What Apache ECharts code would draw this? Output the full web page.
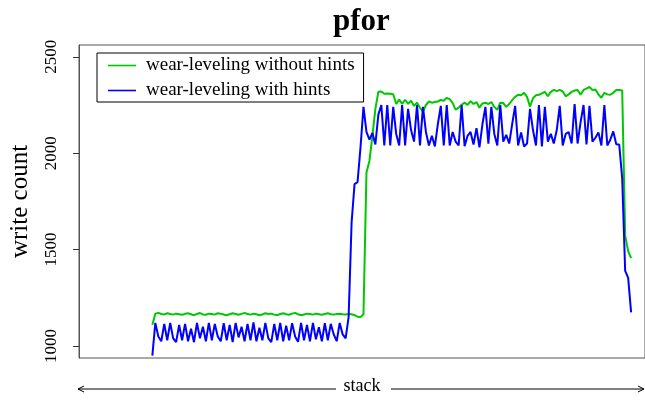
<!DOCTYPE html>
<html>
<head>
<meta charset="utf-8">
<title>pfor</title>
<script src="https://cdn.jsdelivr.net/npm/echarts@6/dist/echarts.min.js"></script>
<style>
  html, body { margin: 0; padding: 0; background: #fff; }
  #chart { width: 645px; height: 400px; }
</style>
</head>
<body>
<div id="chart"></div>
<script>
// write counts per stack position
var withoutHints = [
  1110, 1168, 1172, 1166, 1164, 1170, 1166, 1163, 1168, 1165,
  1162, 1167, 1170, 1165, 1160, 1166, 1171, 1164, 1162, 1168,
  1166, 1163, 1170, 1168, 1164, 1160, 1165, 1170, 1166, 1162,
  1167, 1172, 1166, 1163, 1168, 1165, 1160, 1164, 1170, 1166,
  1168, 1163, 1160, 1166, 1170, 1165, 1162, 1168, 1172, 1165,
  1160, 1164, 1168, 1166, 1163, 1168, 1165, 1162, 1166, 1170,
  1165, 1163, 1166, 1168, 1165, 1164, 1166, 1165, 1160, 1152,
  1150, 1165,
  1900, 1960, 2090, 2230, 2318, 2320, 2308, 2310,
  2308, 2306, 2255, 2278, 2256, 2277, 2256, 2272, 2245, 2262,
  2235, 2215, 2250, 2268, 2262, 2265, 2268, 2276, 2272, 2287,
  2280, 2260, 2225, 2236, 2251, 2262, 2250, 2270, 2255, 2265,
  2236, 2258, 2262, 2255, 2265, 2240, 2225, 2262, 2260, 2240,
  2255, 2275, 2292, 2303, 2300, 2313, 2292, 2241, 2285, 2300,
  2303, 2310, 2318, 2295, 2318, 2328, 2322, 2328, 2320, 2295,
  2305, 2318, 2325, 2328, 2303, 2328, 2335, 2344, 2328, 2330,
  2305, 2287, 2313, 2305, 2303, 2313, 2328, 2328, 2325, 1574,
  1492, 1456
];

var withHints = [
  950, 1120, 1050, 1025, 1115, 1030, 1120, 1040, 1020, 1110,
  1030, 1115, 1025, 1090, 1020, 1120, 1040, 1100, 1025, 1120,
  1030, 1115, 1050, 1025, 1118, 1030, 1110, 1020, 1120, 1045,
  1100, 1025, 1115, 1030, 1122, 1025, 1095, 1030, 1120, 1040,
  1020, 1115, 1030, 1120, 1025, 1105, 1030, 1118, 1050, 1022,
  1120, 1030, 1110, 1025, 1120, 1035, 1098, 1025, 1118, 1030,
  1115, 1060, 1025, 1120, 1060, 1040, 1150, 1640, 1840, 1850,
  2030, 2240,
  2110, 2070, 2105, 2045, 2200, 2250, 2040, 2250,
  2040, 2240, 2100, 2040, 2250, 2040, 2230, 2120, 2060, 2250,
  2040, 2240, 2110, 2040, 2090, 2035, 2150, 2245, 2040, 2250,
  2040, 2110, 2060, 2040, 2250, 2036, 2090, 2110, 2045, 2130,
  2030, 2150, 2240, 2050, 2240, 2100, 2040, 2250, 2060, 2095,
  2050, 2150, 2245, 2040, 2108, 2035, 2050, 2230, 2120, 2040,
  2250, 2035, 2240, 2060, 2100, 2050, 2120, 2245, 2040, 2100,
  2110, 2050, 2255, 2050, 2160, 2250, 2045, 2245, 2060, 2080,
  2108, 2040, 2250, 2040, 2070, 2113, 2046, 2045, 1870, 1390,
  1355, 1175
];

var seriesNames = ['wear-leveling without hints', 'wear-leveling with hints'];
var yTicks = [1000, 1500, 2000, 2500];

var serif = '"Liberation Serif", "DejaVu Serif", serif';

function toPairs(values) {
    return values.map(function(v, i) {
        return [i, v];
    });
}

var chart = echarts.init(document.getElementById('chart'));

var option = {
    animation: false,
    backgroundColor: '#fff',
    title: {
        text: 'pfor',
        left: 333,
        top: 6,
        padding: 0,
        textStyle: {
            fontFamily: serif,
            fontSize: 31,
            fontWeight: 'bold',
            color: '#000'
        }
    },
    legend: {
        orient: 'vertical',
        left: 97,
        top: 53,
        padding: [3, 9, 2, 11],
        itemGap: 6,
        itemWidth: 28,
        itemHeight: 14,
        // plain thin line as the key
        icon: 'path://M0,0L28,0L28,1.6L0,1.6Z',
        borderColor: '#000',
        borderWidth: 1,
        borderRadius: 0,
        textStyle: {
            fontFamily: serif,
            fontSize: 19,
            color: '#000',
            padding: [0, 0, 0, 5]
        },
        data: seriesNames
    },
    grid: {
        left: 76,
        right: -2,
        top: 45,
        bottom: 39,
        show: true,
        borderColor: '#555',
        borderWidth: 1
    },
    xAxis: {
        type: 'value',
        min: -24.67,
        max: 165.67,
        name: 'stack',
        nameLocation: 'middle',
        nameGap: 19,
        nameTextStyle: {
            fontFamily: serif,
            fontSize: 18,
            color: '#000'
        },
        axisLine: { show: false },
        axisTick: { show: false },
        axisLabel: { show: false },
        splitLine: { show: false }
    },
    yAxis: {
        type: 'value',
        min: 938,
        max: 2561,
        name: 'write count',
        nameLocation: 'middle',
        nameGap: 46,
        nameRotate: 90,
        nameTextStyle: {
            fontFamily: serif,
            fontSize: 25,
            color: '#000'
        },
        axisLine: { show: true, onZero: false, lineStyle: { color: '#555' } },
        axisTick: {
            show: true,
            length: 6,
            customValues: yTicks,
            lineStyle: { color: '#333' }
        },
        axisLabel: {
            rotate: 90,
            margin: 19,
            customValues: yTicks,
            formatter: function(v) { return String(v); },
            fontFamily: serif,
            fontSize: 17,
            color: '#000'
        },
        splitLine: { show: false }
    },
    graphic: [
        {
            type: 'line',
            shape: { x1: 78, y1: 389, x2: 336, y2: 389 },
            style: { stroke: '#000', lineWidth: 1 }
        },
        {
            type: 'polyline',
            shape: { points: [[84, 386], [78, 389], [84, 392]] },
            style: { stroke: '#000', lineWidth: 1, fill: null }
        },
        {
            type: 'line',
            shape: { x1: 391, y1: 389, x2: 644, y2: 389 },
            style: { stroke: '#000', lineWidth: 1 }
        },
        {
            type: 'polyline',
            shape: { points: [[638, 386], [644, 389], [638, 392]] },
            style: { stroke: '#000', lineWidth: 1, fill: null }
        }
    ],
    series: [
        {
            name: seriesNames[0],
            type: 'line',
            symbol: 'none',
            data: toPairs(withoutHints),
            itemStyle: { color: '#00c800' },
            lineStyle: { color: '#00c800', width: 2 },
            z: 3
        },
        {
            name: seriesNames[1],
            type: 'line',
            symbol: 'none',
            data: toPairs(withHints),
            itemStyle: { color: '#0000ff' },
            lineStyle: { color: '#0000ff', width: 2 },
            z: 4
        }
    ]
};

chart.setOption(option);
</script>
</body>
</html>
